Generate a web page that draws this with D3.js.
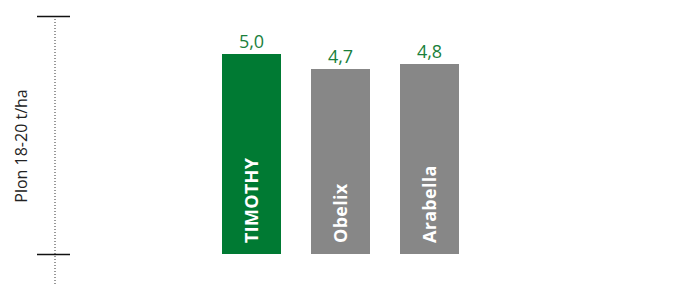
<!DOCTYPE html>
<html>
<head>
<meta charset="utf-8">
<script src="https://cdn.jsdelivr.net/npm/d3@7"></script>
<style>
  body { margin: 0; background: #fff; }
  svg text { font-family: "Open Sans", "Liberation Sans", sans-serif; }
</style>
</head>
<body>
<div id="chart"></div>
<script>
// values
var categories = ['TIMOTHY', 'Obelix', 'Arabella'];
var yields = [5.0, 4.7, 4.8];
var valueLabels = ['5,0', '4,7', '4,8'];
var barColors = ['#007a33', '#878787', '#878787'];
var axisTicks = [1, 5.76];
var axisTitle = 'Plon 18-20 t/ha';

var width = 679, height = 284;

var svg = d3.select('#chart').append('svg')
	.attr('width', width)
	.attr('height', height);

var x = d3.scaleBand()
	.domain(categories)
	.range([207, 474])
	.paddingInner(30 / 89)
	.paddingOuter(15 / 89);

var y = d3.scaleLinear()
	.domain([1, 5.76])
	.range([254, 16]);

// dotted vertical line
svg.append('line')
	.attr('x1', 55).attr('x2', 55)
	.attr('y1', y(5.76)).attr('y2', height)
	.attr('stroke', '#333')
	.attr('stroke-width', 1)
	.attr('stroke-dasharray', '1,2');

// end ticks only
var axis = d3.axisLeft(y).tickValues(axisTicks).tickSize(33).tickFormat('');
var gAxis = svg.append('g')
	.attr('transform', 'translate(70,0)')
	.call(axis);
gAxis.select('.domain').remove();
gAxis.selectAll('.tick line')
	.attr('stroke', '#111')
	.attr('stroke-width', 1.5);

svg.append('text')
	.attr('transform', 'translate(27,' + 146 + ') rotate(-90)')
	.attr('text-anchor', 'middle')
	.attr('font-size', 16)
	.attr('fill', '#222')
	.text(axisTitle);

var bars = svg.selectAll('.bar')
	.data(categories)
	.enter().append('g')
	.attr('class', 'bar');

bars.append('rect')
	.attr('x', function(d){ return x(d); })
	.attr('y', function(d, i){ return y(yields[i]); })
	.attr('width', x.bandwidth())
	.attr('height', function(d, i){ return y(1) - y(yields[i]); })
	.attr('fill', function(d, i){ return barColors[i]; });

bars.append('text')
	.attr('x', function(d){ return x(d) + x.bandwidth() / 2; })
	.attr('y', function(d, i){ return y(yields[i]) - 6; })
	.attr('text-anchor', 'middle')
	.attr('font-size', 18)
	.attr('fill', '#1a7f3c')
	.text(function(d, i){ return valueLabels[i]; });

bars.append('text')
	.attr('transform', function(d){
		return 'translate(' + (x(d) + x.bandwidth() / 2 + 6.5) + ',' + (y(1) - 11) + ') rotate(-90)';
	})
	.attr('font-size', 18)
	.attr('font-weight', 'bold')
	.attr('letter-spacing', 0.3)
	.attr('fill', '#fff')
	.text(function(d){ return d; });
</script>
</body>
</html>
